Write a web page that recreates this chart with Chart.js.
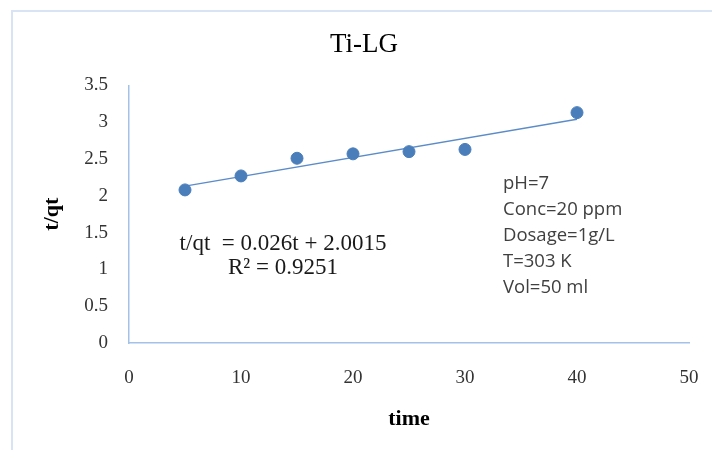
<!DOCTYPE html>
<html>
<head>
<meta charset="utf-8">
<script src="https://cdn.jsdelivr.net/npm/chart.js@4/dist/chart.umd.min.js"></script>
<style>
  body { margin: 0; background: #fff; }
  #wrap { position: relative; width: 712px; height: 450px; }
  #frame { position: absolute; left: 11px; top: 10px; width: 712px; height: 450px;
           border-left: 2px solid #d8e4f4; border-top: 2px solid #d8e4f4; pointer-events: none; }
</style>
</head>
<body>
<div id="wrap">
  <canvas id="chart" width="712" height="450"></canvas>
  <div id="frame"></div>
</div>
<script>
// data
const times = [5, 10, 15, 20, 25, 30, 40];
const tqt = [2.08, 2.27, 2.51, 2.57, 2.60, 2.63, 3.13];
// trendline ends (t/qt = 0.026t + 2.0015)
const trendT = [5, 40];
const trendY = [2.13, 3.04];
const xTicks = [0, 10, 20, 30, 40, 50];
const yTicks = [0, 0.5, 1, 1.5, 2, 2.5, 3, 3.5];

const equation = "t/qt  = 0.026t + 2.0015";
const rSquared = "R\u00B2 = 0.9251";
const conditions = ["pH=7", "Conc=20 ppm", "Dosage=1g/L", "T=303 K", "Vol=50 ml"];

const SERIF = "'Liberation Serif', 'Times New Roman', serif";
const axisBlue = "#a4c1e8";

// text boxes drawn on top of the plot
const notes = {
    id: "notes",
    afterDraw(chart) {
        const ctx = chart.ctx;
        ctx.save();
        ctx.fillStyle = "#1a1a1a";
        ctx.font = "23px " + SERIF;
        ctx.textAlign = "center";
        ctx.textBaseline = "alphabetic";
        ctx.fillText(equation, 283, 250);
        ctx.fillText(rSquared, 283, 274);

        ctx.fillStyle = "#404040";
        ctx.font = "18.5px 'Open Sans', sans-serif";
        ctx.textAlign = "left";
        conditions.forEach((line, i) => {
            ctx.fillText(line, 503, 189 + i * 26);
        });
        ctx.restore();
    }
};

const chart = new Chart(document.getElementById("chart").getContext("2d"), {
    type: "scatter",
    data: {
        datasets: [{
            label: "t/qt",
            data: times.map((t, i) => ({ x: t, y: tqt[i] })),
            backgroundColor: "#4a7ebb",
            borderColor: "#4a7ebb",
            pointRadius: 6,
            pointHoverRadius: 6,
            order: 1
        }, {
            label: "trend",
            type: "line",
            data: trendT.map((t, i) => ({ x: t, y: trendY[i] })),
            borderColor: "#5b8cc8",
            borderWidth: 1.3,
            pointRadius: 0,
            fill: false,
            order: 2
        }]
    },
    options: {
        responsive: false,
        animation: false,
        layout: {
            padding: { left: 39, right: 23, top: 0, bottom: 0 }
        },
        plugins: {
            legend: { display: false },
            tooltip: { enabled: false },
            title: {
                display: true,
                text: "Ti-LG",
                color: "#000",
                font: { family: SERIF, size: 27, weight: "normal" },
                padding: { top: 29, bottom: 24 }
            }
        },
        scales: {
            x: {
                type: "linear",
                min: 0,
                max: 50,
                afterBuildTicks(scale) {
                    scale.ticks = xTicks.map(v => ({ value: v }));
                },
                afterFit(scale) {
                    scale.height = 107;
                    scale.paddingRight = 0;
                },
                grid: { display: true, drawOnChartArea: false, drawTicks: false, color: "transparent" },
                border: { display: true, color: axisBlue, width: 1.5 },
                ticks: {
                    color: "#333",
                    padding: 24,
                    font: { family: SERIF, size: 19 },
                    callback: v => String(v)
                },
                title: {
                    display: true,
                    text: "time",
                    color: "#000",
                    font: { family: SERIF, size: 22, weight: "bold" },
                    padding: { top: 0, bottom: 17 }
                }
            },
            y: {
                type: "linear",
                min: 0,
                max: 3.5,
                afterBuildTicks(scale) {
                    scale.ticks = yTicks.map(v => ({ value: v }));
                },
                afterFit(scale) { scale.width = 90; },
                grid: { display: true, drawOnChartArea: false, drawTicks: false, color: "transparent" },
                border: { display: true, color: axisBlue, width: 1.5 },
                ticks: {
                    color: "#333",
                    padding: 21,
                    font: { family: SERIF, size: 19 },
                    callback: v => String(v)
                },
                title: {
                    display: true,
                    text: "t/qt",
                    color: "#000",
                    font: { family: SERIF, size: 22, weight: "bold" },
                    padding: { top: 0, bottom: 0 }
                }
            }
        }
    },
    plugins: [notes]
});
</script>
</body>
</html>
